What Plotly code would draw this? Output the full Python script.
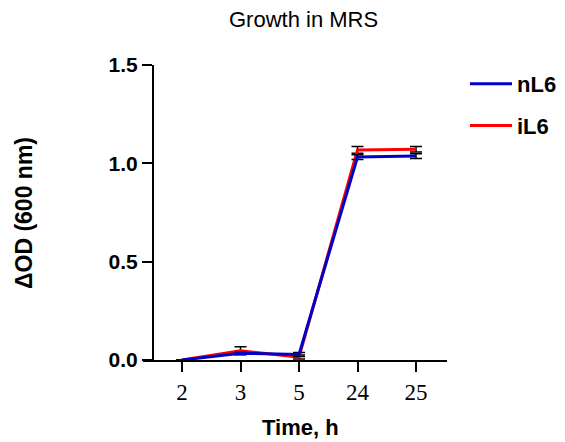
import plotly.graph_objects as go

# Sampling times (h), shown as evenly spaced categories
times = ["2", "3", "5", "24", "25"]

# Mean ΔOD600 and SD for each strain
nl6_mean = [0.0, 0.034, 0.028, 1.032, 1.037]
nl6_sd = [0.0, 0.006, 0.010, 0.012, 0.012]
il6_mean = [0.0, 0.047, 0.015, 1.068, 1.072]
il6_sd = [0.0, 0.020, 0.010, 0.017, 0.014]

y_ticks = [0.0, 0.5, 1.0, 1.5]
y_ticktext = ["0.0", "0.5", "1.0", "1.5"]

BLUE = "#0000C8"
RED = "#FF0000"
BOLD = "Liberation Sans, Arial, sans-serif"

fig = go.Figure()

# iL6 is added first so that nL6 sits on top where they overlap
fig.add_trace(go.Scatter(
    x=times, y=il6_mean, name="iL6", mode="lines",
    line=dict(color=RED, width=3),
    error_y=dict(type="data", array=il6_sd, color="black", thickness=1.5, width=6),
    legendrank=2, legendgroup="i", cliponaxis=False,
))
fig.add_trace(go.Scatter(
    x=times, y=nl6_mean, name="nL6", mode="lines",
    line=dict(color=BLUE, width=3),
    error_y=dict(type="data", array=nl6_sd, color="black", thickness=1.5, width=6),
    legendrank=1, legendgroup="n", cliponaxis=False,
))

L, R, T, B = 143, 118, 65, 82
W, H = 565, 442
pw = W - L - R

fig.update_layout(
    width=W, height=H,
    margin=dict(l=L, r=R, t=T, b=B),
    paper_bgcolor="white", plot_bgcolor="white",
    showlegend=True,
    legend=dict(
        xref="container", yref="container",
        x=465 / W, y=1 - 63 / H, xanchor="left", yanchor="top",
        font=dict(family=BOLD, size=22, color="black", weight="bold"),
        traceorder="grouped", tracegroupgap=10, itemwidth=42,
        bgcolor="rgba(0,0,0,0)",
    ),
    xaxis=dict(
        type="category", range=[-0.667, 4.53],
        showline=True, linecolor="black", linewidth=2,
        ticks="outside", ticklen=10, tickwidth=2, tickcolor="black",
        tickfont=dict(family="Liberation Serif, Times New Roman, serif", size=23, color="black"),
        showgrid=False, zeroline=False,
    ),
    yaxis=dict(
        range=[0, 1.5], anchor="free", position=(153 - L) / pw,
        tickvals=y_ticks, ticktext=y_ticktext,
        showline=True, linecolor="black", linewidth=2,
        ticks="outside", ticklen=10, tickwidth=2, tickcolor="black",
        tickfont=dict(family=BOLD, size=21, color="black", weight="bold"),
        showgrid=False, zeroline=False,
    ),
    annotations=[
        dict(text="Growth in MRS", xref="paper", yref="paper",
             x=(303 - L) / pw, y=1 + (T - 20) / (H - T - B), xanchor="center", yanchor="middle",
             showarrow=False, font=dict(family=BOLD, size=22, color="black")),
        dict(text="Time, h", xref="paper", yref="paper",
             x=(300 - L) / pw, y=-(427 - (H - B)) / (H - T - B), xanchor="center", yanchor="middle",
             showarrow=False, font=dict(family=BOLD, size=22, color="black", weight="bold")),
        dict(text="ΔOD (600 nm)", xref="paper", yref="paper",
             x=-(L - 24) / pw, y=(H - B - 213) / (H - T - B), xanchor="center", yanchor="middle",
             textangle=-90, showarrow=False,
             font=dict(family=BOLD, size=23, color="black", weight="bold")),
    ],
)

fig.write_html("out.html")
